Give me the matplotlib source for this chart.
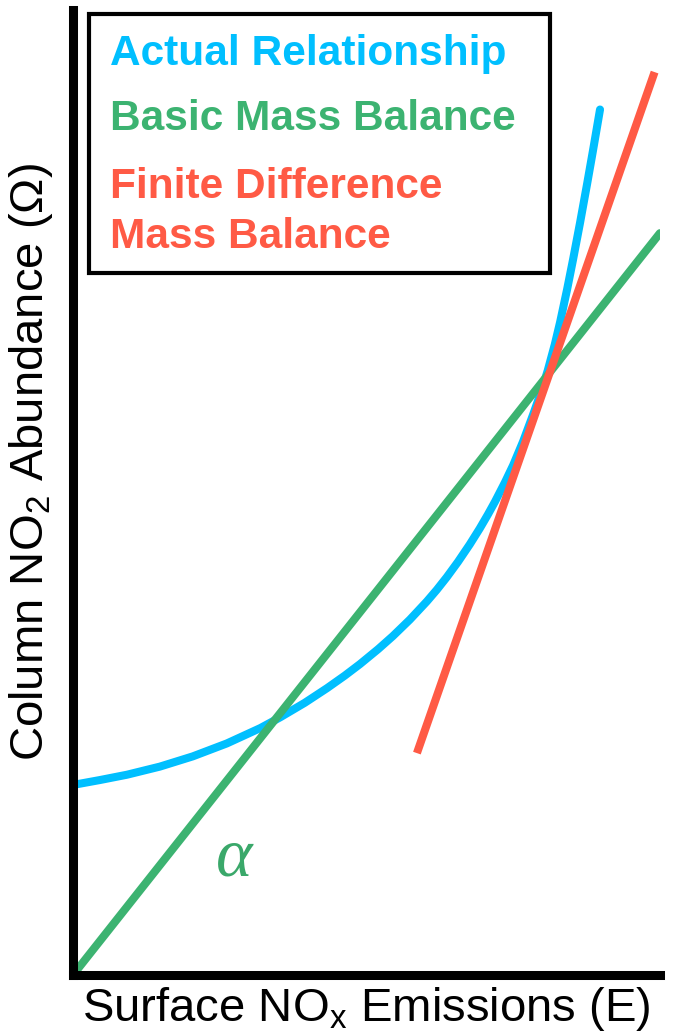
import numpy as np
from matplotlib import pyplot as plt
from matplotlib.patches import Rectangle

plt.rcParams['font.family'] = ['Liberation Sans', 'DejaVu Sans']
plt.rcParams['mathtext.fontset'] = 'custom'
plt.rcParams['mathtext.rm'] = 'Liberation Sans'

# actual relationship between emissions (E) and column abundance (Omega)
actual_E = [0.0, 0.46, 0.92, 1.48, 2.04, 2.62, 3.19, 3.53, 3.95, 4.33, 4.63,
            4.89, 5.20, 5.45, 5.74, 6.03, 6.20, 6.37, 6.56, 6.76, 6.93, 7.07,
            7.19, 7.36, 7.50, 7.67, 7.84, 7.97, 8.09, 8.21, 8.30, 8.42, 8.52,
            8.64, 8.76, 8.86, 8.98]
actual_omega = [1.970, 2.021, 2.076, 2.160, 2.266, 2.400, 2.559, 2.671, 2.822, 2.974, 3.103,
                3.223, 3.378, 3.513, 3.684, 3.873, 3.994, 4.125, 4.283, 4.463, 4.628, 4.774,
                4.906, 5.107, 5.285, 5.532, 5.810, 6.034, 6.268, 6.538, 6.768, 7.110, 7.415,
                7.799, 8.201, 8.546, 8.972]

# basic mass balance: straight line through the origin (slope alpha)
basic_E = [0.0, 10.0]
basic_omega = [0.0, 7.69]

# finite difference mass balance: local slope near the current state
fd_E = [5.86, 9.91]
fd_omega = [2.30, 9.36]

legend_labels = ['Actual Relationship', 'Basic Mass Balance', 'Finite Difference', 'Mass Balance']

blue = '#00bfff'
green = '#3cb371'
red = '#ff5a45'

fig = plt.figure(figsize=(6.73, 10.35), dpi=100)
ax = fig.add_axes([0.1085, 0.058, 0.872, 0.932])

ax.plot(actual_E, actual_omega, color=blue, lw=5.8, solid_capstyle='round',
        solid_joinstyle='round', clip_on=False)
ax.plot(basic_E, basic_omega, color=green, lw=5.8, solid_capstyle='round')
ax.plot(fd_E, fd_omega, color=red, lw=5.8, solid_capstyle='butt')

ax.set_xlim(0, 10)
ax.set_ylim(0, 10)
ax.set_xticks([]), ax.set_yticks([])
for s in ['top', 'right']:
    ax.spines[s].set_visible(False)
for s in ['left', 'bottom']:
    ax.spines[s].set_linewidth(6.5)
    ax.spines[s].set_capstyle('projecting')

ax.set_xlabel('Surface NO$_\\mathregular{x}$ Emissions (E)', fontsize=34, labelpad=7)
ax.set_ylabel('Column NO$_\\mathregular{2}$ Abundance (Ω)', fontsize=34)
ax.yaxis.set_label_coords(-0.031, 0.532)

# slope label on the basic mass balance line
ax.text(2.75, 1.2, 'α', color='#3aa86a', fontsize=50, family='Liberation Serif',
        style='italic', ha='center', va='center')

# legend box drawn by hand, text coloured like the lines
ax.add_patch(Rectangle((0.027, 0.728), 0.785, 0.268, transform=ax.transAxes,
                       fill=False, lw=3, ec='black', clip_on=False))
legend_y = [0.943, 0.876, 0.805, 0.754]
legend_colors = [blue, green, red, red]
for label, y, c in zip(legend_labels, legend_y, legend_colors):
    ax.text(0.063, y, label, transform=ax.transAxes, color=c,
            fontsize=30.5, weight='bold', va='baseline')

plt.savefig('out.png', dpi=100)
